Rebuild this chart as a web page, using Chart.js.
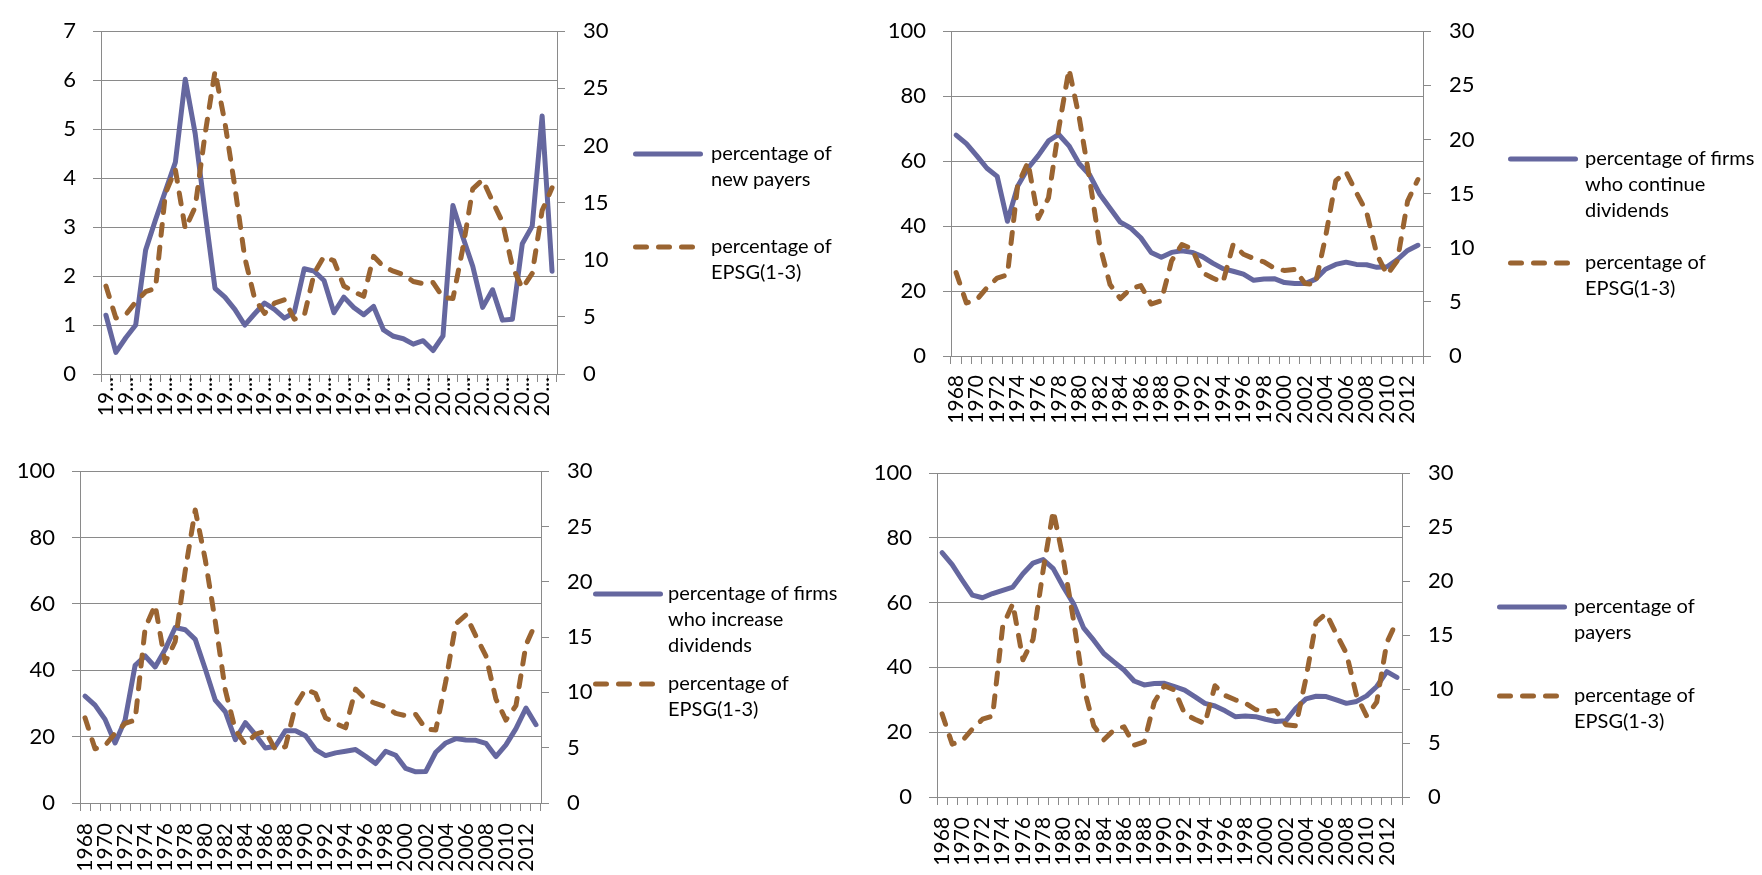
<!DOCTYPE html>
<html><head><meta charset="utf-8">
<script src="https://cdn.jsdelivr.net/npm/chart.js@4.4.1/dist/chart.umd.min.js"></script>
<style>
html,body{margin:0;padding:0;background:#fff;}
body{width:1762px;height:875px;overflow:hidden;position:relative;}
canvas{position:absolute;}
.leg{position:absolute;font-family:Lato,"Open Sans",sans-serif;font-size:20px;line-height:26px;color:#000;white-space:nowrap;}
svg.mk{position:absolute;left:0;top:0;width:1762px;height:875px;overflow:visible;pointer-events:none;}
</style></head><body>
<canvas id="c1" width="640" height="440" style="left:0px;top:0px;width:640px;height:440px"></canvas>
<canvas id="c2" width="650" height="440" style="left:850px;top:0px;width:650px;height:440px"></canvas>
<canvas id="c3" width="640" height="435" style="left:0px;top:440px;width:640px;height:435px"></canvas>
<canvas id="c4" width="650" height="435" style="left:850px;top:440px;width:650px;height:435px"></canvas>
<svg class="mk" id="mk"></svg>
<div id="legs"></div>
<script>
// ---------- DATA ----------
const years = [1968,1969,1970,1971,1972,1973,1974,1975,1976,1977,1978,1979,1980,1981,1982,1983,1984,1985,1986,1987,1988,1989,1990,1991,1992,1993,1994,1995,1996,1997,1998,1999,2000,2001,2002,2003,2004,2005,2006,2007,2008,2009,2010,2011,2012,2013];

const epsg = [7.7,4.9,5.2,6.3,7.2,7.5,15.8,17.9,12.7,14.6,21.0,26.5,22.0,16.4,10.2,6.6,5.3,6.2,6.5,4.8,5.1,8.8,10.3,9.9,7.7,7.2,6.8,10.3,9.4,9.0,8.7,8.1,7.9,8.0,6.7,6.6,11.0,16.2,17.0,15.1,13.3,9.4,7.5,8.8,14.3,16.3];

const newPayers = [1.2,0.44,0.74,1.0,2.53,3.15,3.74,4.32,6.02,4.91,3.3,1.75,1.57,1.32,1.0,1.23,1.45,1.32,1.14,1.26,2.15,2.1,1.91,1.25,1.57,1.36,1.21,1.38,0.9,0.77,0.72,0.61,0.68,0.48,0.78,3.44,2.8,2.2,1.36,1.72,1.1,1.12,2.66,3.02,5.27,2.1];

const continueDiv = [68,65.4,61.7,57.8,55.3,41.5,52.3,57.8,61.7,66.2,68.2,64.7,59.2,55.8,49.8,45.5,41.2,39.4,36.4,31.9,30.4,31.9,32.4,31.9,30.6,28.6,26.9,26.1,25.2,23.3,23.7,23.8,22.6,22.3,22.3,23.6,26.7,28.2,28.9,28.2,28.1,27.3,27.5,29.7,32.5,34.1];

const increaseDiv = [32.2,29.5,25.2,18.1,25.0,41.5,44.3,41.0,46.3,52.9,52.2,49.3,40.4,31.0,27.5,19.1,24.2,20.6,16.6,17.1,21.8,21.8,20.3,16.1,14.3,15.1,15.6,16.1,14.1,11.9,15.6,14.4,10.4,9.4,9.5,15.3,18.1,19.4,19.0,18.9,18.0,14.0,17.5,22.4,28.6,23.6];

const payers = [75.4,71.7,66.9,62.3,61.5,62.8,63.8,64.8,68.9,72.2,73.3,70.5,64.8,59.7,52.2,48.4,44.3,41.7,39.2,35.8,34.6,35.0,35.1,34.1,33.0,31.0,28.9,28.1,26.6,24.8,25.0,24.8,24.0,23.3,23.5,27.4,30.3,31.1,31.0,30.0,28.9,29.5,31.2,34.1,38.7,36.9];

const leftAxisP1 = {min:0, max:7, step:1};
const leftAxisPct = {min:0, max:100, step:20};
const rightAxis = {min:0, max:30, step:5};

const labelNewPayers = ['percentage of', 'new payers'];
const labelContinue = ['percentage of firms', 'who continue', 'dividends'];
const labelIncrease = ['percentage of firms', 'who increase', 'dividends'];
const labelPayers = ['percentage of', 'payers'];
const labelEpsg = ['percentage of', 'EPSG(1-3)'];

// ---------- STYLE ----------
const BLUE = '#65679F';
const BROWN = '#9A6431';
const GRID = '#8a8a8a';
const FONT = 'Lato, "Open Sans", sans-serif';
Chart.defaults.font.family = FONT;
Chart.defaults.color = '#000';

function makeChart(id, g, leftData, leftCfg, leftLabel, truncated) {
  const ctx = document.getElementById(id);
  return new Chart(ctx, {
    type: 'line',
    data: {
      labels: years,
      datasets: [
        {label: labelEpsg.join(' '), data: epsg, yAxisID: 'y2', borderColor: BROWN, borderWidth: 5,
         borderDash: [11, 12], borderCapStyle: 'round', borderJoinStyle: 'round', pointRadius: 0, tension: 0, order: 0},
        {label: leftLabel.join(' '), data: leftData, yAxisID: 'y', borderColor: BLUE, borderWidth: 5,
         borderCapStyle: 'round', borderJoinStyle: 'round', pointRadius: 0, tension: 0, order: 1}
      ]
    },
    options: {
      responsive: false, animation: false, devicePixelRatio: 1,
      layout: {padding: {top: g.top, left: 0, right: 0, bottom: 0}},
      plugins: {legend: {display: false}, tooltip: {enabled: false}},
      scales: {
        x: {
          type: 'category', offset: true,
          grid: {offset: true, drawOnChartArea: false, tickLength: 8, color: GRID, lineWidth: 1},
          border: {color: GRID, width: 1},
          ticks: {autoSkip: false, minRotation: 90, maxRotation: 90, padding: g.xpad,
            font: {size: 21}, color: '#000',
            callback: function(v, i) {
              if (i % 2 !== 0) return '';
              const s = String(this.getLabelForValue(v));
              return truncated ? s.slice(0, 2) + '...' : s;
            }},
          afterFit: s => { s.height = g.xh; }
        },
        y: {
          position: 'left', min: leftCfg.min, max: leftCfg.max,
          ticks: {stepSize: leftCfg.step, padding: 17, font: {size: 22}, color: '#000'},
          grid: {color: GRID, tickLength: 8, lineWidth: 1},
          border: {color: GRID, width: 1},
          afterFit: s => { s.width = g.lw; }
        },
        y2: {
          position: 'right', min: rightAxis.min, max: rightAxis.max,
          ticks: {stepSize: rightAxis.step, padding: 18, font: {size: 22}, color: '#000'},
          grid: {drawOnChartArea: false, color: GRID, tickLength: 8, lineWidth: 1},
          border: {color: GRID, width: 1},
          afterFit: s => { s.width = g.rw; }
        }
      }
    }
  });
}

makeChart('c1', {top: 17, lw: 101, rw: 83, xh: 66, xpad: -5}, newPayers, leftAxisP1, labelNewPayers, true);
makeChart('c2', {top: 20, lw: 101, rw: 77, xh: 84, xpad: 11}, continueDiv, leftAxisPct, labelContinue, false);
makeChart('c3', {top: 26, lw: 80, rw: 99, xh: 72, xpad: 12}, increaseDiv, leftAxisPct, labelIncrease, false);
makeChart('c4', {top: 33, lw: 87, rw: 98, xh: 78, xpad: 12}, payers, leftAxisPct, labelPayers, false);

// ---------- LEGENDS (HTML) ----------
const legendLayout = [
  {mx: 633, tx: 711, items: [{y: 154, text: labelNewPayers, c: BLUE, dash: false}, {y: 247, text: labelEpsg, c: BROWN, dash: true}]},
  {mx: 1508, tx: 1585, items: [{y: 159, text: labelContinue, c: BLUE, dash: false}, {y: 263, text: labelEpsg, c: BROWN, dash: true}]},
  {mx: 593, tx: 668, items: [{y: 594, text: labelIncrease, c: BLUE, dash: false}, {y: 684, text: labelEpsg, c: BROWN, dash: true}]},
  {mx: 1497, tx: 1574, items: [{y: 607, text: labelPayers, c: BLUE, dash: false}, {y: 696, text: labelEpsg, c: BROWN, dash: true}]}
];
const svg = document.getElementById('mk');
const legs = document.getElementById('legs');
let svgHtml = '';
legendLayout.forEach(L => {
  L.items.forEach(it => {
    svgHtml += '<line x1="' + (L.mx + 2.5) + '" y1="' + it.y + '" x2="' + (L.mx + 67.5) + '" y2="' + it.y +
      '" stroke="' + it.c + '" stroke-width="5" stroke-linecap="round"' + (it.dash ? ' stroke-dasharray="11 12"' : '') + '/>';
    const d = document.createElement('div');
    d.className = 'leg';
    d.style.left = L.tx + 'px';
    d.style.top = (it.y - 15) + 'px';
    d.innerHTML = it.text.join('<br>');
    legs.appendChild(d);
  });
});
svg.innerHTML = svgHtml;
</script>
</body></html>
